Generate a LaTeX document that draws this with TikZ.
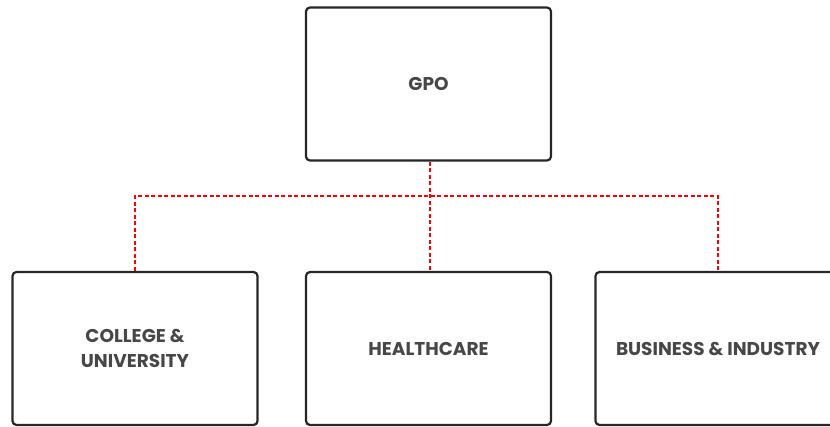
\documentclass[tikz,border=0pt]{standalone}
\usepackage{fontspec}
\setmainfont{Poppins}
\begin{document}
\begin{tikzpicture}[x=1pt,y=-1pt,
  box/.style={draw=black!85,line width=2.2pt,rounded corners=4pt,minimum width=245pt,minimum height=153pt,inner sep=0pt,
    font=\fontsize{18.5}{25}\selectfont\bfseries,text=black!72,align=center},
  link/.style={draw=red,line width=1.8pt,dash pattern=on 4pt off 2.5pt}]
\useasboundingbox (0,0) rectangle (830,427);
\clip (0,0) rectangle (830,427);
\node[box] (gpo) at (428.5,84) {GPO};
\node[box] (college) at (135,348.5) {COLLEGE \&\\UNIVERSITY};
\node[box] (health) at (428.5,348.5) {HEALTHCARE};
\node[box] (business) at (718,348.5) {BUSINESS \& INDUSTRY};
\coordinate (mid) at (430,196);
\draw[link] (430,0 |- gpo.south) -- (430,0 |- health.north);
\draw[link] (college.north) |- (mid) -| (business.north);
\end{tikzpicture}
\end{document}
